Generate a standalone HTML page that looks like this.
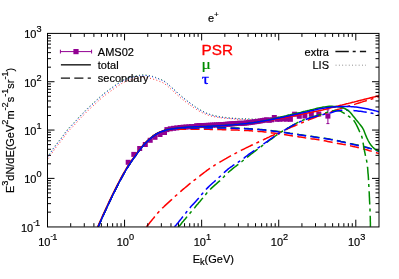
<!DOCTYPE html>
<html><head><meta charset="utf-8"><style>
html,body{margin:0;padding:0;background:#fff;}
svg{display:block;will-change:transform;font-family:"Liberation Sans",sans-serif;fill:#000;}
text{stroke:#000;stroke-width:0.18px;}
</style></head><body>
<svg width="399" height="279" viewBox="0 0 399 279">
<rect width="399" height="279" fill="#fff"/>
<clipPath id="c"><rect x="47.5" y="33.4" width="331.5" height="193.29999999999998"/></clipPath>
<g clip-path="url(#c)">
<path d="M47.5,159.4 L48.4,158.2 L49.3,157.0 L50.2,155.8 L51.0,154.6 L51.8,153.3 L52.7,152.1 L53.5,150.9 L54.4,149.6 L55.2,148.4 L56.1,147.2 L57.1,146.0 L58.0,144.9 L58.9,143.7 L59.9,142.5 L60.8,141.4 L61.7,140.2 L62.6,139.0 L63.5,137.8 L64.3,136.6 L65.2,135.3 L66.1,134.1 L67.0,132.9 L67.9,131.8 L68.9,130.7 L69.9,129.6 L71.0,128.5 L72.0,127.5 L73.1,126.4 L74.1,125.3 L75.1,124.2 L76.1,123.1 L77.1,122.0 L78.1,120.8 L79.1,119.7 L80.1,118.6 L81.1,117.6 L82.2,116.5 L83.2,115.5 L84.3,114.4 L85.3,113.3 L86.4,112.2 L87.4,111.2 L88.5,110.1 L89.6,109.1 L90.7,108.1 L91.8,107.1 L92.9,106.1 L94.0,105.1 L95.1,104.1 L96.2,103.1 L97.3,102.1 L98.4,101.0 L99.5,100.0 L100.6,99.0 L101.7,98.0 L102.8,97.1 L104.0,96.1 L105.2,95.2 L106.3,94.3 L107.6,93.4 L108.8,92.5 L110.0,91.6 L111.2,90.8 L112.4,89.9 L113.6,89.0 L114.8,88.1 L116.0,87.3 L117.3,86.4 L118.5,85.6 L119.7,84.8 L121.0,83.9 L122.2,83.1 L123.6,82.4 L124.9,81.8 L126.3,81.3 L127.7,80.7 L129.1,80.3 L130.6,79.8 L132.0,79.4 L133.4,79.0 L134.9,78.6 L136.4,78.3 L137.8,78.1 L139.3,77.8 L140.8,77.6 L142.3,77.4 L143.8,77.4 L145.2,77.5 L146.7,77.7 L148.2,77.9 L149.7,78.2 L151.1,78.5 L152.6,78.9 L154.0,79.4 L155.4,79.8 L156.8,80.3 L158.2,80.9 L159.6,81.4 L161.0,82.0 L162.4,82.5 L163.7,83.2 L164.9,84.0 L166.1,84.9 L167.3,85.9 L168.4,86.9 L169.5,87.9 L170.7,88.9 L171.8,89.9 L172.9,90.9 L174.0,91.9 L175.1,92.9 L176.2,93.9 L177.3,94.9 L178.4,95.9 L179.5,96.9 L180.7,97.9 L181.8,98.8 L183.0,99.7 L184.1,100.7 L185.3,101.6 L186.5,102.5 L187.7,103.4 L188.9,104.3 L190.1,105.2 L191.3,106.0 L192.6,106.9 L193.8,107.8 L195.0,108.6 L196.3,109.4 L197.6,110.2 L198.9,111.0 L200.2,111.6 L201.5,112.3 L202.8,113.0 L204.2,113.6 L205.6,114.2 L207.0,114.8 L208.4,115.3 L209.8,115.7 L211.2,116.1 L212.7,116.4 L214.1,116.7 L215.6,117.0 L217.1,117.3 L218.6,117.5 L220.1,117.7 L221.5,117.9 L223.0,118.1 L224.5,118.2 L226.0,118.4 L227.5,118.5 L229.0,118.6 L230.5,118.7 L232.0,118.9 L233.4,119.0 L234.9,119.1 L236.4,119.2 L237.9,119.3 L239.4,119.4 L240.9,119.4 L242.4,119.5 L243.9,119.6 L245.4,119.6 L246.9,119.7 L248.4,119.8 L249.9,119.8 L251.3,119.8 L252.8,119.9 L254.3,119.9 L255.8,120.0 L257.3,120.0 L258.8,120.0 L260.3,120.0 L261.8,120.0 L263.3,119.9 L264.8,119.9 L266.3,119.8 L267.8,119.7 L269.3,119.6 L270.7,119.5 L272.2,119.4 L273.7,119.1 L275.2,118.9 L276.6,118.6 L278.1,118.3 L279.6,118.0 L281.0,117.7 L282.5,117.4 L284.0,117.1 L285.4,116.7 L286.9,116.4 L288.3,116.1 L289.8,115.7 L291.2,115.4 L292.7,115.1 L294.2,114.8 L295.6,114.5 L297.1,114.1 L298.5,113.8 L300.0,113.5" fill="none" stroke="#ff0000" stroke-width="0.9" stroke-dasharray="0.9 2.4" stroke-dashoffset="-1.1"/>
<path d="M47.3,156.8 L48.2,155.6 L49.1,154.4 L50.0,153.2 L50.8,152.0 L51.7,150.7 L52.5,149.5 L53.3,148.2 L54.2,147.0 L55.1,145.8 L56.0,144.6 L56.9,143.4 L57.8,142.2 L58.7,141.1 L59.7,139.9 L60.6,138.7 L61.5,137.6 L62.4,136.4 L63.3,135.1 L64.2,133.9 L65.0,132.7 L65.9,131.5 L66.8,130.3 L67.8,129.1 L68.8,128.0 L69.8,126.9 L70.8,125.9 L71.9,124.8 L72.9,123.7 L74.0,122.6 L75.0,121.5 L76.0,120.4 L77.0,119.3 L77.9,118.1 L78.9,117.0 L80.0,116.0 L81.0,114.9 L82.1,113.8 L83.1,112.8 L84.2,111.7 L85.2,110.6 L86.3,109.5 L87.3,108.5 L88.4,107.4 L89.5,106.4 L90.6,105.4 L91.7,104.4 L92.8,103.4 L93.9,102.4 L95.0,101.4 L96.1,100.4 L97.2,99.3 L98.3,98.3 L99.4,97.3 L100.5,96.3 L101.7,95.3 L102.8,94.3 L103.9,93.4 L105.1,92.5 L106.3,91.6 L107.5,90.7 L108.7,89.8 L109.9,88.9 L111.2,88.0 L112.4,87.2 L113.6,86.3 L114.8,85.4 L116.0,84.6 L117.3,83.7 L118.5,82.9 L119.7,82.0 L121.0,81.2 L122.2,80.4 L123.6,79.7 L124.9,79.1 L126.3,78.6 L127.7,78.1 L129.2,77.6 L130.6,77.1 L132.0,76.7 L133.5,76.3 L135.0,76.0 L136.4,75.7 L137.9,75.4 L139.4,75.2 L140.9,74.9 L142.3,74.8 L143.8,74.8 L145.3,75.0 L146.8,75.1 L148.3,75.3 L149.8,75.6 L151.2,76.0 L152.7,76.4 L154.1,76.9 L155.5,77.3 L156.9,77.9 L158.3,78.4 L159.7,79.0 L161.1,79.5 L162.5,80.1 L163.8,80.8 L165.0,81.6 L166.2,82.5 L167.3,83.5 L168.5,84.5 L169.6,85.5 L170.7,86.5 L171.9,87.5 L173.0,88.5 L174.1,89.5 L175.2,90.5 L176.3,91.5 L177.4,92.6 L178.5,93.6 L179.6,94.5 L180.8,95.5 L181.9,96.5 L183.1,97.4 L184.2,98.4 L185.4,99.3 L186.6,100.2 L187.7,101.1 L188.9,102.1 L190.1,102.9 L191.3,103.8 L192.5,104.7 L193.8,105.6 L195.0,106.5 L196.2,107.4 L197.5,108.2 L198.7,109.0 L200.0,109.7 L201.3,110.4 L202.6,111.1 L204.0,111.8 L205.4,112.5 L206.7,113.1 L208.1,113.6 L209.5,114.1 L210.9,114.6 L212.4,115.0 L213.8,115.4 L215.3,115.7 L216.8,116.0 L218.2,116.3 L219.7,116.6 L221.2,116.8 L222.7,117.0 L224.1,117.2 L225.6,117.4 L227.1,117.5 L228.6,117.7 L230.1,117.8 L231.6,118.0 L233.1,118.1 L234.6,118.2 L236.1,118.3 L237.6,118.4 L239.1,118.5 L240.6,118.5 L242.1,118.6 L243.6,118.7 L245.1,118.7 L246.5,118.8 L248.0,118.8 L249.5,118.9 L251.0,118.9 L252.5,119.0 L254.0,119.0 L255.5,119.0 L257.0,119.1 L258.5,119.1 L260.0,119.1 L261.5,119.1 L263.0,119.0 L264.5,119.0 L266.0,118.9 L267.5,118.8 L269.0,118.8 L270.5,118.6 L272.0,118.5 L273.4,118.3 L274.9,118.0 L276.4,117.7 L277.9,117.4 L279.3,117.1 L280.8,116.8 L282.3,116.5 L283.7,116.2 L285.2,115.8 L286.6,115.5 L288.1,115.2 L289.6,114.9 L291.0,114.5 L292.5,114.2 L294.0,113.9 L295.4,113.6 L296.9,113.2 L298.3,112.9 L299.8,112.6" fill="none" stroke="#008c00" stroke-width="0.9" stroke-dasharray="0.9 2.4"/>
<path d="M47.5,157.3 L48.4,156.1 L49.3,154.9 L50.2,153.7 L51.0,152.5 L51.9,151.2 L52.7,150.0 L53.5,148.7 L54.4,147.5 L55.3,146.3 L56.2,145.1 L57.1,143.9 L58.0,142.7 L58.9,141.6 L59.9,140.4 L60.8,139.2 L61.7,138.1 L62.6,136.9 L63.5,135.6 L64.4,134.4 L65.2,133.2 L66.1,132.0 L67.0,130.8 L68.0,129.6 L69.0,128.5 L70.0,127.4 L71.0,126.4 L72.1,125.3 L73.1,124.2 L74.2,123.1 L75.2,122.0 L76.2,120.9 L77.2,119.8 L78.1,118.6 L79.1,117.5 L80.2,116.5 L81.2,115.4 L82.3,114.3 L83.3,113.3 L84.4,112.2 L85.4,111.1 L86.5,110.0 L87.5,109.0 L88.6,107.9 L89.7,106.9 L90.8,105.9 L91.9,104.9 L93.0,103.9 L94.1,102.9 L95.2,101.9 L96.3,100.9 L97.4,99.8 L98.5,98.8 L99.6,97.8 L100.7,96.8 L101.9,95.8 L103.0,94.8 L104.1,93.9 L105.3,93.0 L106.5,92.1 L107.7,91.2 L108.9,90.3 L110.1,89.4 L111.4,88.5 L112.6,87.7 L113.8,86.8 L115.0,85.9 L116.2,85.1 L117.5,84.2 L118.7,83.4 L119.9,82.5 L121.2,81.7 L122.4,80.9 L123.8,80.2 L125.1,79.6 L126.5,79.1 L127.9,78.6 L129.4,78.1 L130.8,77.6 L132.2,77.2 L133.7,76.8 L135.2,76.5 L136.6,76.2 L138.1,75.9 L139.6,75.7 L141.1,75.4 L142.5,75.3 L144.0,75.3 L145.5,75.5 L147.0,75.6 L148.5,75.8 L150.0,76.1 L151.4,76.5 L152.9,76.9 L154.3,77.4 L155.7,77.8 L157.1,78.4 L158.5,78.9 L159.9,79.5 L161.3,80.0 L162.7,80.6 L164.0,81.3 L165.2,82.1 L166.4,83.0 L167.5,84.0 L168.7,85.0 L169.8,86.0 L170.9,87.0 L172.1,88.0 L173.2,89.0 L174.3,90.0 L175.4,91.0 L176.5,92.0 L177.6,93.1 L178.7,94.1 L179.8,95.0 L181.0,96.0 L182.1,97.0 L183.3,97.9 L184.4,98.9 L185.6,99.8 L186.8,100.7 L187.9,101.6 L189.1,102.6 L190.3,103.4 L191.5,104.3 L192.7,105.2 L194.0,106.1 L195.2,107.0 L196.4,107.9 L197.7,108.7 L198.9,109.5 L200.2,110.2 L201.5,110.9 L202.8,111.6 L204.2,112.3 L205.6,113.0 L206.9,113.6 L208.3,114.1 L209.7,114.6 L211.1,115.1 L212.6,115.5 L214.0,115.9 L215.5,116.2 L217.0,116.5 L218.4,116.8 L219.9,117.1 L221.4,117.3 L222.9,117.5 L224.3,117.7 L225.8,117.9 L227.3,118.0 L228.8,118.2 L230.3,118.3 L231.8,118.5 L233.3,118.6 L234.8,118.7 L236.3,118.8 L237.8,118.9 L239.3,119.0 L240.8,119.0 L242.3,119.1 L243.8,119.2 L245.3,119.2 L246.7,119.3 L248.2,119.3 L249.7,119.4 L251.2,119.4 L252.7,119.5 L254.2,119.5 L255.7,119.5 L257.2,119.6 L258.7,119.6 L260.2,119.6 L261.7,119.6 L263.2,119.5 L264.7,119.5 L266.2,119.4 L267.7,119.3 L269.2,119.3 L270.7,119.1 L272.2,119.0 L273.6,118.8 L275.1,118.5 L276.6,118.2 L278.1,117.9 L279.5,117.6 L281.0,117.3 L282.5,117.0 L283.9,116.7 L285.4,116.3 L286.8,116.0 L288.3,115.7 L289.8,115.4 L291.2,115.0 L292.7,114.7 L294.2,114.4 L295.6,114.1 L297.1,113.7 L298.5,113.4 L300.0,113.1" fill="none" stroke="#0000ff" stroke-width="0.9" stroke-dasharray="0.9 2.4"/>
<rect x="125.7" y="159.8" width="5.0" height="5.0" fill="#920092"/>
<rect x="131.3" y="151.9" width="5.0" height="5.0" fill="#920092"/>
<rect x="137.2" y="146.0" width="5.0" height="5.0" fill="#920092"/>
<rect x="142.8" y="142.0" width="5.0" height="5.0" fill="#920092"/>
<rect x="147.7" y="137.8" width="5.0" height="5.0" fill="#920092"/>
<rect x="152.5" y="134.8" width="5.0" height="5.0" fill="#920092"/>
<rect x="157.5" y="132.0" width="5.0" height="5.0" fill="#920092"/>
<rect x="162.0" y="130.0" width="5.0" height="5.0" fill="#920092"/>
<rect x="164.4" y="127.1" width="5.0" height="5.0" fill="#920092"/>
<rect x="167.8" y="126.3" width="5.0" height="5.0" fill="#920092"/>
<rect x="171.1" y="125.8" width="5.0" height="5.0" fill="#920092"/>
<rect x="174.3" y="125.4" width="5.0" height="5.0" fill="#920092"/>
<rect x="177.5" y="125.0" width="5.0" height="5.0" fill="#920092"/>
<rect x="180.6" y="124.7" width="5.0" height="5.0" fill="#920092"/>
<rect x="183.5" y="124.5" width="5.0" height="5.0" fill="#920092"/>
<rect x="186.3" y="124.3" width="5.0" height="5.0" fill="#920092"/>
<rect x="189.0" y="124.1" width="5.0" height="5.0" fill="#920092"/>
<rect x="191.6" y="124.0" width="5.0" height="5.0" fill="#920092"/>
<rect x="194.2" y="123.2" width="5.0" height="5.0" fill="#920092"/>
<rect x="196.6" y="123.1" width="5.0" height="5.0" fill="#920092"/>
<rect x="199.0" y="123.0" width="5.0" height="5.0" fill="#920092"/>
<rect x="201.3" y="123.0" width="5.0" height="5.0" fill="#920092"/>
<rect x="203.6" y="122.9" width="5.0" height="5.0" fill="#920092"/>
<rect x="205.8" y="122.8" width="5.0" height="5.0" fill="#920092"/>
<rect x="207.9" y="122.7" width="5.0" height="5.0" fill="#920092"/>
<rect x="210.0" y="122.6" width="5.0" height="5.0" fill="#920092"/>
<rect x="212.0" y="122.5" width="5.0" height="5.0" fill="#920092"/>
<rect x="214.0" y="122.4" width="5.0" height="5.0" fill="#920092"/>
<rect x="216.0" y="122.3" width="5.0" height="5.0" fill="#920092"/>
<rect x="217.8" y="122.2" width="5.0" height="5.0" fill="#920092"/>
<rect x="219.7" y="122.1" width="5.0" height="5.0" fill="#920092"/>
<rect x="221.5" y="122.0" width="5.0" height="5.0" fill="#920092"/>
<rect x="223.3" y="121.8" width="5.0" height="5.0" fill="#920092"/>
<rect x="225.1" y="121.7" width="5.0" height="5.0" fill="#920092"/>
<rect x="226.8" y="121.6" width="5.0" height="5.0" fill="#920092"/>
<rect x="228.5" y="121.4" width="5.0" height="5.0" fill="#920092"/>
<rect x="230.2" y="121.3" width="5.0" height="5.0" fill="#920092"/>
<rect x="231.8" y="121.2" width="5.0" height="5.0" fill="#920092"/>
<rect x="233.6" y="121.0" width="5.0" height="5.0" fill="#920092"/>
<rect x="235.3" y="120.9" width="5.0" height="5.0" fill="#920092"/>
<rect x="237.0" y="120.7" width="5.0" height="5.0" fill="#920092"/>
<rect x="238.8" y="120.9" width="5.0" height="5.0" fill="#920092"/>
<rect x="240.5" y="120.8" width="5.0" height="5.0" fill="#920092"/>
<rect x="242.3" y="120.6" width="5.0" height="5.0" fill="#920092"/>
<rect x="244.1" y="120.4" width="5.0" height="5.0" fill="#920092"/>
<rect x="246.0" y="120.2" width="5.0" height="5.0" fill="#920092"/>
<rect x="247.8" y="120.0" width="5.0" height="5.0" fill="#920092"/>
<rect x="249.7" y="119.7" width="5.0" height="5.0" fill="#920092"/>
<rect x="251.6" y="119.4" width="5.0" height="5.0" fill="#920092"/>
<rect x="253.6" y="119.1" width="5.0" height="5.0" fill="#920092"/>
<rect x="255.6" y="118.8" width="5.0" height="5.0" fill="#920092"/>
<rect x="257.6" y="118.5" width="5.0" height="5.0" fill="#920092"/>
<rect x="259.7" y="118.1" width="5.0" height="5.0" fill="#920092"/>
<rect x="261.9" y="117.7" width="5.0" height="5.0" fill="#920092"/>
<rect x="264.1" y="117.3" width="5.0" height="5.0" fill="#920092"/>
<rect x="266.8" y="117.8" width="5.0" height="5.0" fill="#920092"/>
<rect x="269.2" y="117.3" width="5.0" height="5.0" fill="#920092"/>
<rect x="271.8" y="115.0" width="5.0" height="5.0" fill="#920092"/>
<rect x="274.5" y="116.8" width="5.0" height="5.0" fill="#920092"/>
<rect x="277.4" y="116.7" width="5.0" height="5.0" fill="#920092"/>
<rect x="280.6" y="116.5" width="5.0" height="5.0" fill="#920092"/>
<rect x="284.1" y="116.7" width="5.0" height="5.0" fill="#920092"/>
<rect x="287.9" y="116.8" width="5.0" height="5.0" fill="#920092"/>
<rect x="292.1" y="111.7" width="5.0" height="5.0" fill="#920092"/>
<rect x="296.8" y="113.8" width="5.0" height="5.0" fill="#920092"/>
<rect x="302.4" y="113.5" width="5.0" height="5.0" fill="#920092"/>
<rect x="308.8" y="111.8" width="5.0" height="5.0" fill="#920092"/>
<rect x="316.3" y="111.5" width="5.0" height="5.0" fill="#920092"/>
<rect x="325.4" y="113.6" width="5.0" height="5.0" fill="#920092"/>
<path d="M327.9,109.8 V123.6 M326.4,109.8 h3 M326.4,123.6 h3" stroke="#920092" stroke-width="1" fill="none"/>
<path d="M98.1,227.0 L99.6,223.6 L101.1,220.2 L102.6,216.8 L104.1,213.5 L105.6,210.2 L107.1,207.0 L108.6,203.8 L110.1,200.6 L111.6,197.5 L113.1,194.4 L114.6,191.4 L116.1,188.4 L117.6,185.4 L119.1,182.5 L120.6,179.7 L122.1,176.9 L123.6,174.2 L125.1,171.5 L126.6,168.9 L128.1,166.5 L129.6,164.2 L131.1,161.9 L132.6,159.8 L134.1,157.7 L135.6,155.6 L137.1,153.4 L138.6,151.4 L140.1,149.4 L141.6,147.5 L143.1,145.7 L144.6,144.1 L146.1,142.5 L147.6,141.0 L149.1,139.7 L150.6,138.4 L152.1,137.2 L153.6,136.0 L155.1,134.9 L156.6,134.0 L158.1,133.1 L159.6,132.4 L161.1,131.7 L162.6,131.1 L164.1,130.6 L165.6,130.3 L167.1,129.9 L168.6,129.7 L170.1,129.5 L171.6,129.4 L173.1,129.3 L174.6,129.3 L176.1,129.2 L177.6,129.2 L179.1,129.2 L180.6,129.2 L182.1,129.2 L183.6,129.2 L185.1,129.2 L186.6,129.2 L188.1,129.2 L189.6,129.2 L191.1,129.2 L192.6,129.2 L194.1,129.2 L195.6,129.2 L197.1,129.2 L198.6,129.2 L200.1,129.2 L201.6,129.2 L203.1,129.2 L204.6,129.2 L206.1,129.3 L207.6,129.3 L209.1,129.3 L210.6,129.4 L212.1,129.4 L213.6,129.4 L215.1,129.5 L216.6,129.5 L218.1,129.6 L219.6,129.6 L221.1,129.6 L222.6,129.7 L224.1,129.7 L225.6,129.7 L227.1,129.8 L228.6,129.8 L230.1,129.9 L231.6,129.9 L233.1,130.0 L234.6,130.0 L236.1,130.1 L237.6,130.1 L239.1,130.2 L240.6,130.2 L242.1,130.3 L243.6,130.4 L245.1,130.4 L246.6,130.5 L248.1,130.6 L249.6,130.7 L251.1,130.8 L252.6,130.9 L254.1,131.0 L255.6,131.1 L257.1,131.3 L258.6,131.4 L260.1,131.5 L261.6,131.6 L263.1,131.8 L264.6,132.0 L266.1,132.1 L267.6,132.3 L269.1,132.5 L270.6,132.7 L272.1,132.9 L273.6,133.1 L275.1,133.3 L276.6,133.5 L278.1,133.7 L279.6,133.9 L281.1,134.2 L282.6,134.4 L284.1,134.6 L285.6,134.8 L287.1,135.0 L288.6,135.2 L290.1,135.5 L291.6,135.7 L293.1,135.9 L294.6,136.2 L296.1,136.4 L297.6,136.6 L299.1,136.9 L300.6,137.1 L302.1,137.3 L303.6,137.5 L305.1,137.8 L306.6,138.0 L308.1,138.2 L309.6,138.4 L311.1,138.7 L312.6,138.9 L314.1,139.1 L315.6,139.3 L317.1,139.6 L318.6,139.8 L320.1,140.1 L321.6,140.3 L323.1,140.6 L324.6,140.8 L326.1,141.1 L327.6,141.4 L329.1,141.7 L330.6,142.0 L332.1,142.3 L333.6,142.6 L335.1,142.8 L336.6,143.1 L338.1,143.4 L339.6,143.7 L341.1,144.0 L342.6,144.3 L344.1,144.5 L345.6,144.8 L347.1,145.1 L348.6,145.4 L350.1,145.7 L351.6,146.1 L353.1,146.4 L354.6,146.7 L356.1,147.1 L357.6,147.4 L359.1,147.8 L360.6,148.2 L362.1,148.6 L363.6,149.0 L365.1,149.4 L366.6,149.8 L368.1,150.2 L369.6,150.7 L371.1,151.1 L372.6,151.6 L374.1,152.1 L375.6,152.5 L377.1,153.0 L378.6,153.4 L379.5,153.7" fill="none" stroke="#ff0000" stroke-width="1.5" stroke-dasharray="9.1 4.3" stroke-dashoffset="1.5"/>
<path d="M98.1,226.7 L99.6,223.3 L101.1,219.9 L102.6,216.5 L104.1,213.2 L105.6,209.9 L107.1,206.7 L108.6,203.5 L110.1,200.3 L111.6,197.2 L113.1,194.1 L114.6,191.1 L116.1,188.1 L117.6,185.1 L119.1,182.2 L120.6,179.4 L122.1,176.6 L123.6,173.9 L125.1,171.2 L126.6,168.6 L128.1,166.2 L129.6,163.9 L131.1,161.6 L132.6,159.5 L134.1,157.4 L135.6,155.3 L137.1,153.1 L138.6,151.1 L140.1,149.1 L141.6,147.2 L143.1,145.4 L144.6,143.8 L146.1,142.2 L147.6,140.7 L149.1,139.4 L150.6,138.1 L152.1,136.9 L153.6,135.7 L155.1,134.6 L156.6,133.7 L158.1,132.8 L159.6,132.1 L161.1,131.5 L162.6,130.9 L164.1,130.4 L165.6,129.9 L167.1,129.5 L168.6,129.2 L170.1,128.9 L171.6,128.7 L173.1,128.5 L174.6,128.3 L176.1,128.2 L177.6,128.1 L179.1,127.9 L180.6,127.9 L182.1,127.8 L183.6,127.8 L185.1,127.8 L186.6,127.7 L188.1,127.7 L189.6,127.7 L191.1,127.7 L192.6,127.7 L194.1,127.6 L195.6,127.6 L197.1,127.6 L198.6,127.6 L200.1,127.6 L201.6,127.6 L203.1,127.6 L204.6,127.6 L206.1,127.6 L207.6,127.6 L209.1,127.6 L210.6,127.6 L212.1,127.6 L213.6,127.7 L215.1,127.7 L216.6,127.7 L218.1,127.7 L219.6,127.7 L221.1,127.7 L222.6,127.7 L224.1,127.8 L225.6,127.8 L227.1,127.8 L228.6,127.8 L230.1,127.9 L231.6,127.9 L233.1,128.0 L234.6,128.0 L236.1,128.1 L237.6,128.1 L239.1,128.2 L240.6,128.2 L242.1,128.3 L243.6,128.3 L245.1,128.4 L246.6,128.5 L248.1,128.6 L249.6,128.7 L251.1,128.8 L252.6,128.9 L254.1,129.0 L255.6,129.1 L257.1,129.2 L258.6,129.3 L260.1,129.4 L261.6,129.5 L263.1,129.7 L264.6,129.8 L266.1,130.0 L267.6,130.1 L269.1,130.3 L270.6,130.5 L272.1,130.7 L273.6,130.9 L275.1,131.1 L276.6,131.3 L278.1,131.5 L279.6,131.6 L281.1,131.8 L282.6,132.1 L284.1,132.3 L285.6,132.5 L287.1,132.7 L288.6,132.9 L290.1,133.2 L291.6,133.4 L293.1,133.6 L294.6,133.9 L296.1,134.1 L297.6,134.3 L299.1,134.6 L300.6,134.8 L302.1,135.0 L303.6,135.2 L305.1,135.4 L306.6,135.7 L308.1,135.9 L309.6,136.1 L311.1,136.3 L312.6,136.5 L314.1,136.8 L315.6,137.0 L317.1,137.2 L318.6,137.4 L320.1,137.6 L321.6,137.8 L323.1,138.1 L324.6,138.3 L326.1,138.5 L327.6,138.7 L329.1,139.0 L330.6,139.3 L332.1,139.5 L333.6,139.8 L335.1,140.1 L336.6,140.4 L338.1,140.7 L339.6,141.0 L341.1,141.4 L342.6,141.7 L344.1,142.0 L345.6,142.4 L347.1,142.7 L348.6,143.0 L350.1,143.4 L351.6,143.7 L353.1,144.1 L354.6,144.4 L356.1,144.8 L357.6,145.1 L359.1,145.4 L360.6,145.8 L362.1,146.2 L363.6,146.5 L365.1,146.9 L366.6,147.3 L368.1,147.7 L369.6,148.1 L371.1,148.6 L372.6,149.1 L374.1,149.6 L375.6,150.0 L377.1,150.5 L378.6,150.9 L379.5,151.2" fill="none" stroke="#008c00" stroke-width="1.5" stroke-dasharray="9.1 4.3" stroke-dashoffset="1.5"/>
<path d="M98.1,227.0 L99.6,223.6 L101.1,220.2 L102.6,216.8 L104.1,213.5 L105.6,210.2 L107.1,207.0 L108.6,203.8 L110.1,200.6 L111.6,197.5 L113.1,194.4 L114.6,191.4 L116.1,188.4 L117.6,185.4 L119.1,182.5 L120.6,179.7 L122.1,176.9 L123.6,174.2 L125.1,171.5 L126.6,168.9 L128.1,166.5 L129.6,164.2 L131.1,161.9 L132.6,159.8 L134.1,157.7 L135.6,155.6 L137.1,153.4 L138.6,151.4 L140.1,149.4 L141.6,147.5 L143.1,145.7 L144.6,144.1 L146.1,142.5 L147.6,141.0 L149.1,139.7 L150.6,138.4 L152.1,137.2 L153.6,136.0 L155.1,134.9 L156.6,134.0 L158.1,133.1 L159.6,132.4 L161.1,131.8 L162.6,131.2 L164.1,130.7 L165.6,130.2 L167.1,129.8 L168.6,129.5 L170.1,129.2 L171.6,129.0 L173.1,128.8 L174.6,128.6 L176.1,128.5 L177.6,128.4 L179.1,128.2 L180.6,128.2 L182.1,128.1 L183.6,128.1 L185.1,128.1 L186.6,128.0 L188.1,128.0 L189.6,128.0 L191.1,128.0 L192.6,128.0 L194.1,127.9 L195.6,127.9 L197.1,127.9 L198.6,127.9 L200.1,127.9 L201.6,127.9 L203.1,127.9 L204.6,127.9 L206.1,127.9 L207.6,127.9 L209.1,127.9 L210.6,127.9 L212.1,127.9 L213.6,128.0 L215.1,128.0 L216.6,128.0 L218.1,128.0 L219.6,128.0 L221.1,128.0 L222.6,128.0 L224.1,128.1 L225.6,128.1 L227.1,128.1 L228.6,128.1 L230.1,128.2 L231.6,128.2 L233.1,128.3 L234.6,128.3 L236.1,128.4 L237.6,128.4 L239.1,128.5 L240.6,128.5 L242.1,128.6 L243.6,128.6 L245.1,128.7 L246.6,128.8 L248.1,128.9 L249.6,129.0 L251.1,129.1 L252.6,129.2 L254.1,129.3 L255.6,129.4 L257.1,129.5 L258.6,129.6 L260.1,129.7 L261.6,129.8 L263.1,130.0 L264.6,130.1 L266.1,130.3 L267.6,130.4 L269.1,130.6 L270.6,130.8 L272.1,131.0 L273.6,131.2 L275.1,131.4 L276.6,131.6 L278.1,131.8 L279.6,131.9 L281.1,132.1 L282.6,132.4 L284.1,132.6 L285.6,132.8 L287.1,133.0 L288.6,133.2 L290.1,133.5 L291.6,133.7 L293.1,133.9 L294.6,134.2 L296.1,134.4 L297.6,134.6 L299.1,134.9 L300.6,135.1 L302.1,135.3 L303.6,135.5 L305.1,135.7 L306.6,136.0 L308.1,136.2 L309.6,136.4 L311.1,136.6 L312.6,136.8 L314.1,137.1 L315.6,137.3 L317.1,137.5 L318.6,137.7 L320.1,137.9 L321.6,138.1 L323.1,138.4 L324.6,138.6 L326.1,138.8 L327.6,139.0 L329.1,139.3 L330.6,139.6 L332.1,139.8 L333.6,140.1 L335.1,140.4 L336.6,140.7 L338.1,141.0 L339.6,141.3 L341.1,141.7 L342.6,142.0 L344.1,142.3 L345.6,142.7 L347.1,143.0 L348.6,143.3 L350.1,143.7 L351.6,144.0 L353.1,144.4 L354.6,144.7 L356.1,145.1 L357.6,145.4 L359.1,145.7 L360.6,146.1 L362.1,146.5 L363.6,146.8 L365.1,147.2 L366.6,147.6 L368.1,148.0 L369.6,148.4 L371.1,148.9 L372.6,149.4 L374.1,149.9 L375.6,150.3 L377.1,150.8 L378.6,151.2 L379.5,151.5" fill="none" stroke="#0000ff" stroke-width="1.5" stroke-dasharray="9.1 4.3" stroke-dashoffset="1.5"/>
<path d="M146.4,227.0 L147.3,225.8 L148.2,224.7 L149.2,223.5 L150.1,222.3 L151.0,221.2 L152.0,220.0 L152.9,218.9 L153.9,217.7 L154.8,216.5 L155.8,215.4 L156.8,214.3 L157.7,213.1 L158.7,212.0 L159.7,210.9 L160.7,209.8 L161.8,208.8 L162.8,207.7 L163.9,206.7 L165.0,205.6 L166.1,204.6 L167.2,203.6 L168.3,202.6 L169.4,201.6 L170.5,200.6 L171.6,199.6 L172.7,198.5 L173.8,197.5 L174.9,196.5 L176.0,195.5 L177.1,194.6 L178.2,193.6 L179.3,192.6 L180.5,191.6 L181.6,190.6 L182.7,189.7 L183.9,188.7 L185.0,187.7 L186.1,186.8 L187.3,185.8 L188.4,184.9 L189.6,183.9 L190.8,183.0 L191.9,182.1 L193.1,181.1 L194.3,180.2 L195.5,179.3 L196.6,178.4 L197.8,177.5 L199.0,176.6 L200.2,175.7 L201.4,174.7 L202.5,173.8 L203.7,172.9 L204.9,172.0 L206.1,171.1 L207.3,170.2 L208.5,169.3 L209.7,168.5 L211.0,167.7 L212.2,166.8 L213.5,166.0 L214.7,165.2 L216.0,164.4 L217.3,163.7 L218.5,162.9 L219.8,162.1 L221.1,161.3 L222.4,160.6 L223.7,159.8 L225.0,159.1 L226.3,158.4 L227.6,157.6 L228.9,156.9 L230.2,156.2 L231.5,155.5 L232.8,154.8 L234.1,154.1 L235.4,153.4 L236.8,152.7 L238.1,152.0 L239.4,151.3 L240.7,150.6 L242.1,149.9 L243.4,149.3 L244.7,148.6 L246.1,147.9 L247.4,147.3 L248.7,146.6 L250.1,146.0 L251.4,145.3 L252.8,144.7 L254.1,144.1 L255.5,143.5 L256.9,142.8 L258.2,142.2 L259.6,141.6 L260.9,141.0 L262.3,140.3 L263.6,139.7 L264.9,139.0 L266.3,138.4 L267.6,137.7 L269.0,137.1 L270.3,136.4 L271.7,135.8 L273.1,135.2 L274.4,134.6 L275.8,134.0 L277.2,133.4 L278.5,132.8 L279.9,132.2 L281.2,131.6 L282.6,131.0 L284.0,130.4 L285.4,129.8 L286.7,129.2 L288.1,128.6 L289.5,128.0 L290.8,127.4 L292.2,126.8 L293.6,126.3 L294.9,125.7 L296.3,125.1 L297.7,124.5 L299.0,123.9 L300.4,123.3 L301.8,122.8 L303.2,122.2 L304.6,121.6 L305.9,121.0 L307.3,120.5 L308.7,119.9 L310.1,119.3 L311.5,118.8 L312.9,118.2 L314.2,117.7 L315.6,117.2 L317.0,116.6 L318.4,116.1 L319.8,115.6 L321.2,115.1 L322.6,114.5 L324.0,114.0 L325.4,113.5 L326.8,113.1 L328.3,112.6 L329.7,112.1 L331.1,111.6 L332.5,111.1 L333.9,110.7 L335.3,110.2 L336.8,109.8 L338.2,109.3 L339.6,108.9 L341.0,108.4 L342.4,108.0 L343.9,107.6 L345.3,107.1 L346.7,106.7 L348.2,106.3 L349.6,105.8 L351.0,105.4 L352.4,105.0 L353.9,104.5 L355.3,104.1 L356.7,103.6 L358.1,103.2 L359.6,102.8 L361.0,102.3 L362.4,101.9 L363.8,101.4 L365.3,101.0 L366.7,100.5 L368.1,100.1 L369.5,99.6 L371.0,99.2 L372.4,98.8 L373.8,98.3 L375.2,97.9 L376.7,97.4 L378.1,97.0 L379.5,96.5" fill="none" stroke="#ff0000" stroke-width="1.5" stroke-dasharray="13.4 3.9 3 4.2"/>
<path d="M178.6,227.0 L179.5,225.8 L180.5,224.7 L181.4,223.5 L182.3,222.3 L183.3,221.2 L184.2,220.0 L185.2,218.9 L186.2,217.7 L187.1,216.6 L188.1,215.4 L189.1,214.3 L190.1,213.1 L191.0,212.0 L192.0,210.8 L192.9,209.7 L193.9,208.5 L194.9,207.4 L195.8,206.3 L196.8,205.1 L197.8,204.0 L198.7,202.8 L199.7,201.7 L200.7,200.5 L201.6,199.4 L202.6,198.2 L203.5,197.1 L204.5,195.9 L205.5,194.7 L206.4,193.6 L207.4,192.5 L208.4,191.4 L209.4,190.3 L210.4,189.2 L211.5,188.1 L212.6,187.1 L213.7,186.1 L214.8,185.1 L216.0,184.1 L217.1,183.1 L218.2,182.2 L219.4,181.2 L220.5,180.2 L221.5,179.1 L222.6,178.1 L223.7,177.0 L224.7,175.9 L225.8,174.9 L226.9,173.8 L227.9,172.8 L229.0,171.8 L230.1,170.8 L231.3,169.8 L232.4,168.9 L233.6,167.9 L234.8,167.0 L236.0,166.1 L237.2,165.2 L238.4,164.3 L239.6,163.4 L240.7,162.4 L241.9,161.5 L243.1,160.5 L244.2,159.6 L245.4,158.7 L246.6,157.7 L247.7,156.8 L248.9,155.9 L250.1,154.9 L251.3,154.0 L252.5,153.1 L253.6,152.2 L254.8,151.3 L256.0,150.4 L257.2,149.5 L258.4,148.6 L259.6,147.7 L260.8,146.8 L262.0,145.9 L263.2,145.0 L264.4,144.1 L265.6,143.2 L266.8,142.3 L268.1,141.4 L269.3,140.5 L270.5,139.7 L271.7,138.8 L272.9,137.9 L274.1,136.9 L275.3,136.0 L276.5,135.2 L277.7,134.3 L278.9,133.5 L280.2,132.6 L281.4,131.8 L282.7,131.0 L284.0,130.3 L285.3,129.5 L286.6,128.8 L287.9,128.0 L289.2,127.3 L290.5,126.5 L291.8,125.8 L293.1,125.0 L294.4,124.3 L295.7,123.6 L297.0,122.9 L298.4,122.2 L299.7,121.6 L301.1,121.0 L302.5,120.4 L303.9,119.8 L305.3,119.3 L306.7,118.8 L308.1,118.3 L309.5,117.8 L310.9,117.3 L312.4,116.9 L313.8,116.4 L315.2,116.0 L316.7,115.6 L318.1,115.2 L319.6,114.8 L321.0,114.4 L322.4,113.9 L323.8,113.4 L325.3,112.9 L326.7,112.4 L328.1,112.0 L329.6,111.6 L331.0,111.3 L332.5,111.0 L334.0,110.7 L335.5,110.5 L337.0,110.5 L338.4,110.7 L339.9,111.1 L341.3,111.6 L342.6,112.3 L343.9,113.2 L345.1,114.0 L346.4,114.8 L347.7,115.6 L348.9,116.4 L350.2,117.3 L351.4,118.2 L352.6,119.1 L353.5,120.2 L354.4,121.4 L355.2,122.7 L356.0,124.0 L356.7,125.4 L357.3,126.7 L358.0,128.1 L358.6,129.4 L359.2,130.8 L359.8,132.2 L360.5,133.5 L361.1,134.9 L361.7,136.3 L362.1,137.7 L362.4,139.1 L362.7,140.6 L363.0,142.1 L363.2,143.6 L363.5,145.1 L363.7,146.5 L364.0,148.0 L364.3,149.5 L364.5,151.0 L364.8,152.4 L365.1,153.9 L365.4,155.4 L365.7,156.8 L366.1,158.3 L366.4,159.7 L366.7,161.2 L367.0,162.7 L367.2,164.2 L367.4,165.7 L367.5,167.2 L367.7,168.6 L367.8,170.1 L367.9,171.6 L368.0,173.1 L368.2,174.6 L368.3,176.1 L368.4,177.6 L368.5,179.1 L368.6,180.6 L368.6,182.1 L368.7,183.6 L368.8,185.1 L368.9,186.6 L369.0,188.1 L369.0,189.6 L369.1,191.1 L369.2,192.6 L369.3,194.1 L369.3,195.6 L369.4,197.1 L369.5,198.6 L369.5,200.0 L369.6,201.5 L369.7,203.0 L369.7,204.5 L369.8,206.0 L369.9,207.5 L370.0,209.0 L370.0,210.5 L370.1,212.0 L370.2,213.5 L370.2,215.0 L370.2,216.5 L370.3,218.0 L370.3,219.5 L370.3,221.0 L370.4,222.5 L370.4,224.0 L370.4,225.5 L370.4,227.0" fill="none" stroke="#008c00" stroke-width="1.5" stroke-dasharray="13.4 3.9 3 4.2"/>
<path d="M174.5,227.0 L175.4,225.8 L176.4,224.7 L177.3,223.5 L178.3,222.4 L179.2,221.2 L180.2,220.0 L181.1,218.9 L182.0,217.7 L183.0,216.5 L183.9,215.4 L184.8,214.2 L185.8,213.0 L186.7,211.8 L187.6,210.6 L188.5,209.5 L189.5,208.3 L190.4,207.2 L191.4,206.1 L192.4,205.0 L193.5,203.9 L194.5,202.8 L195.5,201.7 L196.5,200.6 L197.5,199.4 L198.5,198.3 L199.4,197.1 L200.4,196.0 L201.4,194.8 L202.3,193.7 L203.3,192.5 L204.3,191.4 L205.2,190.3 L206.2,189.2 L207.3,188.1 L208.3,187.1 L209.4,186.0 L210.5,185.0 L211.6,184.0 L212.7,183.0 L213.9,182.0 L215.0,181.0 L216.1,180.0 L217.2,179.0 L218.3,178.0 L219.4,177.0 L220.5,176.0 L221.6,174.9 L222.7,173.9 L223.8,172.9 L224.9,171.9 L226.0,170.9 L227.2,169.9 L228.3,168.9 L229.5,168.0 L230.7,167.1 L231.9,166.3 L233.1,165.4 L234.4,164.6 L235.7,163.8 L236.9,163.0 L238.2,162.2 L239.4,161.4 L240.7,160.5 L241.9,159.6 L243.1,158.7 L244.3,157.8 L245.4,156.9 L246.6,156.0 L247.8,155.1 L249.0,154.2 L250.2,153.3 L251.5,152.5 L252.7,151.6 L253.9,150.8 L255.2,149.9 L256.4,149.1 L257.6,148.2 L258.9,147.4 L260.1,146.5 L261.3,145.7 L262.5,144.8 L263.7,143.9 L264.9,143.0 L266.2,142.1 L267.4,141.3 L268.6,140.4 L269.8,139.5 L271.0,138.7 L272.3,137.8 L273.5,137.0 L274.7,136.2 L276.0,135.3 L277.2,134.5 L278.5,133.7 L279.8,132.9 L281.1,132.1 L282.3,131.4 L283.6,130.6 L284.9,129.9 L286.2,129.1 L287.5,128.4 L288.8,127.7 L290.1,126.9 L291.4,126.2 L292.7,125.4 L294.0,124.7 L295.3,123.9 L296.7,123.2 L298.0,122.6 L299.4,122.0 L300.7,121.4 L302.1,120.8 L303.5,120.3 L304.9,119.7 L306.3,119.2 L307.8,118.7 L309.2,118.3 L310.6,117.8 L312.0,117.4 L313.5,117.0 L314.9,116.6 L316.4,116.2 L317.8,115.8 L319.3,115.5 L320.7,115.1 L322.2,114.8 L323.6,114.4 L325.1,114.1 L326.6,113.8 L328.0,113.4 L329.5,113.1 L330.9,112.7 L332.4,112.3 L333.8,111.8 L335.3,111.4 L336.7,111.0 L338.2,110.7 L339.7,110.4 L341.1,110.2 L342.6,110.2 L344.1,110.2 L345.6,110.3 L347.1,110.3 L348.6,110.4 L350.1,110.4 L351.6,110.5 L353.1,110.6 L354.6,110.7 L356.1,110.8 L357.6,111.0 L359.0,111.2 L360.5,111.3 L362.0,111.5 L363.5,111.8 L365.0,112.0 L366.5,112.2 L367.9,112.4 L369.4,112.7 L370.9,113.0 L372.3,113.3 L373.8,113.7 L375.2,114.1 L376.7,114.5 L378.1,115.0 L379.5,115.5" fill="none" stroke="#0000ff" stroke-width="1.5" stroke-dasharray="13.4 3.9 3 4.2"/>
<path d="M97.6,227.0 L99.1,223.6 L100.6,220.2 L102.1,216.8 L103.6,213.5 L105.1,210.2 L106.6,207.0 L108.1,203.8 L109.6,200.6 L111.1,197.5 L112.6,194.4 L114.1,191.4 L115.6,188.4 L117.1,185.4 L118.6,182.5 L120.1,179.7 L121.6,176.9 L123.1,174.2 L124.6,171.5 L126.1,168.9 L127.6,166.5 L129.1,164.2 L130.6,161.9 L132.1,159.8 L133.6,157.7 L135.1,155.6 L136.6,153.4 L138.1,151.4 L139.6,149.4 L141.1,147.5 L142.6,145.7 L144.1,144.1 L145.6,142.5 L147.1,141.0 L148.6,139.7 L150.1,138.4 L151.6,137.2 L153.1,136.0 L154.6,134.9 L156.1,134.0 L157.6,133.1 L159.1,132.4 L160.6,131.8 L162.1,131.2 L163.6,130.7 L165.1,130.2 L166.6,129.8 L168.1,129.5 L169.6,129.2 L171.1,128.9 L172.6,128.7 L174.1,128.5 L175.6,128.3 L177.1,128.1 L178.6,127.9 L180.1,127.7 L181.6,127.6 L183.1,127.5 L184.6,127.3 L186.1,127.2 L187.6,127.1 L189.1,127.0 L190.6,126.9 L192.1,126.9 L193.6,126.8 L195.1,126.8 L196.6,126.7 L198.1,126.7 L199.6,126.6 L201.1,126.5 L202.6,126.5 L204.1,126.4 L205.6,126.4 L207.1,126.3 L208.6,126.3 L210.1,126.2 L211.6,126.1 L213.1,126.1 L214.6,126.0 L216.1,125.9 L217.6,125.8 L219.1,125.7 L220.6,125.6 L222.1,125.5 L223.6,125.4 L225.1,125.3 L226.6,125.2 L228.1,125.1 L229.6,125.0 L231.1,124.9 L232.6,124.8 L234.1,124.6 L235.6,124.5 L237.1,124.4 L238.6,124.2 L240.1,124.1 L241.6,124.0 L243.1,123.8 L244.6,123.7 L246.1,123.5 L247.6,123.3 L249.1,123.1 L250.6,123.0 L252.1,122.7 L253.6,122.5 L255.1,122.3 L256.6,122.0 L258.1,121.8 L259.6,121.6 L261.1,121.4 L262.6,121.2 L264.1,121.0 L265.6,120.8 L267.1,120.5 L268.6,120.3 L270.1,120.1 L271.6,119.9 L273.1,119.7 L274.6,119.4 L276.1,119.2 L277.6,118.9 L279.1,118.7 L280.6,118.4 L282.1,118.1 L283.6,117.8 L285.1,117.5 L286.6,117.2 L288.1,116.9 L289.6,116.6 L291.1,116.3 L292.6,116.0 L294.1,115.7 L295.6,115.4 L297.1,115.1 L298.6,114.8 L300.1,114.5 L301.6,114.2 L303.1,113.9 L304.6,113.6 L306.1,113.3 L307.6,113.0 L309.1,112.7 L310.6,112.4 L312.1,112.1 L313.6,111.8 L315.1,111.5 L316.6,111.2 L318.1,110.9 L319.6,110.6 L321.1,110.2 L322.6,109.9 L324.1,109.5 L325.6,109.2 L327.1,108.8 L328.6,108.4 L330.1,108.0 L331.6,107.6 L333.1,107.2 L334.6,106.9 L336.1,106.5 L337.6,106.1 L339.1,105.7 L340.6,105.3 L342.1,105.0 L343.6,104.6 L345.1,104.2 L346.6,103.8 L348.1,103.5 L349.6,103.1 L351.1,102.7 L352.6,102.3 L354.1,102.0 L355.6,101.6 L357.1,101.2 L358.6,100.8 L360.1,100.4 L361.6,100.1 L363.1,99.7 L364.6,99.3 L366.1,98.9 L367.6,98.6 L369.1,98.2 L370.6,97.8 L372.1,97.4 L373.6,97.1 L375.1,96.7 L376.6,96.3 L378.1,95.9 L379.0,95.7" fill="none" stroke="#ff0000" stroke-width="1.5"/>
<path d="M98.1,227.0 L99.6,223.6 L101.1,220.2 L102.6,216.8 L104.1,213.5 L105.6,210.2 L107.1,207.0 L108.6,203.8 L110.1,200.6 L111.6,197.5 L113.1,194.4 L114.6,191.4 L116.1,188.4 L117.6,185.4 L119.1,182.5 L120.6,179.7 L122.1,176.9 L123.6,174.2 L125.1,171.5 L126.6,168.9 L128.1,166.5 L129.6,164.2 L131.1,161.9 L132.6,159.8 L134.1,157.7 L135.6,155.6 L137.1,153.4 L138.6,151.4 L140.1,149.4 L141.6,147.5 L143.1,145.7 L144.6,144.1 L146.1,142.5 L147.6,141.0 L149.1,139.7 L150.6,138.4 L152.1,137.2 L153.6,136.0 L155.1,134.9 L156.6,134.0 L158.1,133.1 L159.6,132.4 L161.1,131.8 L162.6,131.2 L164.1,130.7 L165.6,130.2 L167.1,129.8 L168.6,129.5 L170.1,129.2 L171.6,128.9 L173.1,128.7 L174.6,128.5 L176.1,128.3 L177.6,128.1 L179.1,127.9 L180.6,127.7 L182.1,127.6 L183.6,127.5 L185.1,127.3 L186.6,127.2 L188.1,127.1 L189.6,127.0 L191.1,126.9 L192.6,126.9 L194.1,126.8 L195.6,126.8 L197.1,126.7 L198.6,126.7 L200.1,126.6 L201.6,126.5 L203.1,126.5 L204.6,126.4 L206.1,126.4 L207.6,126.3 L209.1,126.3 L210.6,126.2 L212.1,126.1 L213.6,126.1 L215.1,126.0 L216.6,125.9 L218.1,125.8 L219.6,125.7 L221.1,125.6 L222.6,125.5 L224.1,125.4 L225.6,125.3 L227.1,125.2 L228.6,125.1 L230.1,125.0 L231.6,124.9 L233.1,124.8 L234.6,124.6 L236.1,124.5 L237.6,124.4 L239.1,124.2 L240.6,124.1 L242.1,124.0 L243.6,123.8 L245.1,123.7 L246.6,123.5 L248.1,123.3 L249.6,123.1 L251.1,123.0 L252.6,122.8 L254.1,122.6 L255.6,122.3 L257.1,122.1 L258.6,121.8 L260.1,121.6 L261.6,121.3 L263.1,121.0 L264.6,120.7 L266.1,120.4 L267.6,120.0 L269.1,119.7 L270.6,119.4 L272.1,119.0 L273.6,118.7 L275.1,118.3 L276.6,118.0 L278.1,117.6 L279.6,117.3 L281.1,116.9 L282.6,116.6 L284.1,116.2 L285.6,115.9 L287.1,115.5 L288.6,115.1 L290.1,114.8 L291.6,114.4 L293.1,114.1 L294.6,113.7 L296.1,113.4 L297.6,113.1 L299.1,112.7 L300.6,112.4 L302.1,112.0 L303.6,111.6 L305.1,111.3 L306.6,110.9 L308.1,110.6 L309.6,110.2 L311.1,109.8 L312.6,109.5 L314.1,109.1 L315.6,108.7 L317.1,108.3 L318.6,108.0 L320.1,107.7 L321.6,107.4 L323.1,107.1 L324.6,106.9 L326.1,106.7 L327.6,106.5 L329.1,106.3 L330.6,106.3 L332.1,106.3 L333.6,106.4 L335.1,106.4 L336.6,106.5 L338.1,106.7 L339.6,106.9 L341.1,107.3 L342.6,107.8 L344.1,108.3 L345.6,109.0 L347.1,109.9 L348.6,111.0 L350.1,112.3 L351.6,114.0 L353.1,116.0 L354.6,117.8 L356.1,119.7 L357.6,121.5 L359.1,123.4 L360.6,125.2 L362.1,127.2 L363.6,129.8 L365.1,133.7 L366.6,137.4 L368.1,140.5 L369.6,143.2 L371.1,145.3 L372.6,147.0 L374.1,148.4 L375.6,149.5 L377.1,150.3 L378.6,150.9 L379.5,151.2" fill="none" stroke="#008c00" stroke-width="1.5"/>
<path d="M98.1,227.0 L99.6,223.6 L101.1,220.2 L102.6,216.8 L104.1,213.5 L105.6,210.2 L107.1,207.0 L108.6,203.8 L110.1,200.6 L111.6,197.5 L113.1,194.4 L114.6,191.4 L116.1,188.4 L117.6,185.4 L119.1,182.5 L120.6,179.7 L122.1,176.9 L123.6,174.2 L125.1,171.5 L126.6,168.9 L128.1,166.5 L129.6,164.2 L131.1,161.9 L132.6,159.8 L134.1,157.7 L135.6,155.6 L137.1,153.4 L138.6,151.4 L140.1,149.4 L141.6,147.5 L143.1,145.7 L144.6,144.1 L146.1,142.5 L147.6,141.0 L149.1,139.7 L150.6,138.4 L152.1,137.2 L153.6,136.0 L155.1,134.9 L156.6,134.0 L158.1,133.1 L159.6,132.4 L161.1,131.8 L162.6,131.2 L164.1,130.7 L165.6,130.2 L167.1,129.8 L168.6,129.5 L170.1,129.2 L171.6,128.9 L173.1,128.7 L174.6,128.5 L176.1,128.3 L177.6,128.1 L179.1,127.9 L180.6,127.7 L182.1,127.6 L183.6,127.5 L185.1,127.3 L186.6,127.2 L188.1,127.1 L189.6,127.0 L191.1,126.9 L192.6,126.9 L194.1,126.8 L195.6,126.8 L197.1,126.7 L198.6,126.7 L200.1,126.6 L201.6,126.5 L203.1,126.5 L204.6,126.4 L206.1,126.4 L207.6,126.3 L209.1,126.3 L210.6,126.2 L212.1,126.1 L213.6,126.1 L215.1,126.0 L216.6,125.9 L218.1,125.8 L219.6,125.7 L221.1,125.6 L222.6,125.5 L224.1,125.4 L225.6,125.3 L227.1,125.2 L228.6,125.1 L230.1,125.0 L231.6,124.9 L233.1,124.8 L234.6,124.6 L236.1,124.5 L237.6,124.4 L239.1,124.2 L240.6,124.1 L242.1,124.0 L243.6,123.8 L245.1,123.7 L246.6,123.5 L248.1,123.3 L249.6,123.1 L251.1,123.0 L252.6,122.8 L254.1,122.5 L255.6,122.3 L257.1,122.1 L258.6,121.8 L260.1,121.6 L261.6,121.3 L263.1,121.1 L264.6,120.8 L266.1,120.5 L267.6,120.3 L269.1,120.0 L270.6,119.7 L272.1,119.4 L273.6,119.1 L275.1,118.8 L276.6,118.5 L278.1,118.2 L279.6,117.9 L281.1,117.6 L282.6,117.2 L284.1,116.9 L285.6,116.6 L287.1,116.2 L288.6,115.9 L290.1,115.6 L291.6,115.2 L293.1,114.9 L294.6,114.6 L296.1,114.3 L297.6,113.9 L299.1,113.6 L300.6,113.3 L302.1,112.9 L303.6,112.6 L305.1,112.2 L306.6,111.9 L308.1,111.5 L309.6,111.2 L311.1,110.8 L312.6,110.5 L314.1,110.1 L315.6,109.7 L317.1,109.4 L318.6,109.1 L320.1,108.8 L321.6,108.5 L323.1,108.3 L324.6,108.1 L326.1,107.8 L327.6,107.6 L329.1,107.4 L330.6,107.3 L332.1,107.1 L333.6,107.0 L335.1,106.9 L336.6,106.8 L338.1,106.7 L339.6,106.6 L341.1,106.6 L342.6,106.5 L344.1,106.5 L345.6,106.5 L347.1,106.5 L348.6,106.6 L350.1,106.6 L351.6,106.7 L353.1,106.8 L354.6,106.9 L356.1,107.1 L357.6,107.3 L359.1,107.5 L360.6,107.7 L362.1,107.9 L363.6,108.2 L365.1,108.5 L366.6,108.8 L368.1,109.1 L369.6,109.4 L371.1,109.7 L372.6,110.1 L374.1,110.5 L375.6,110.9 L377.1,111.3 L378.6,111.7 L379.5,112.0" fill="none" stroke="#0000ff" stroke-width="1.5"/>
</g>
<path d="M70.70,226.7 v-3.5 M70.70,33.4 v3.5 M84.27,226.7 v-3.5 M84.27,33.4 v3.5 M93.90,226.7 v-3.5 M93.90,33.4 v3.5 M101.37,226.7 v-3.5 M101.37,33.4 v3.5 M107.48,226.7 v-3.5 M107.48,33.4 v3.5 M112.64,226.7 v-3.5 M112.64,33.4 v3.5 M117.11,226.7 v-3.5 M117.11,33.4 v3.5 M121.05,226.7 v-3.5 M121.05,33.4 v3.5 M124.57,226.7 v-7.0 M124.57,33.4 v7.0 M147.78,226.7 v-3.5 M147.78,33.4 v3.5 M161.35,226.7 v-3.5 M161.35,33.4 v3.5 M170.98,226.7 v-3.5 M170.98,33.4 v3.5 M178.45,226.7 v-3.5 M178.45,33.4 v3.5 M184.55,226.7 v-3.5 M184.55,33.4 v3.5 M189.71,226.7 v-3.5 M189.71,33.4 v3.5 M194.18,226.7 v-3.5 M194.18,33.4 v3.5 M198.12,226.7 v-3.5 M198.12,33.4 v3.5 M201.65,226.7 v-7.0 M201.65,33.4 v7.0 M224.85,226.7 v-3.5 M224.85,33.4 v3.5 M238.42,226.7 v-3.5 M238.42,33.4 v3.5 M248.05,226.7 v-3.5 M248.05,33.4 v3.5 M255.52,226.7 v-3.5 M255.52,33.4 v3.5 M261.62,226.7 v-3.5 M261.62,33.4 v3.5 M266.78,226.7 v-3.5 M266.78,33.4 v3.5 M271.25,226.7 v-3.5 M271.25,33.4 v3.5 M275.20,226.7 v-3.5 M275.20,33.4 v3.5 M278.72,226.7 v-7.0 M278.72,33.4 v7.0 M301.93,226.7 v-3.5 M301.93,33.4 v3.5 M315.50,226.7 v-3.5 M315.50,33.4 v3.5 M325.13,226.7 v-3.5 M325.13,33.4 v3.5 M332.60,226.7 v-3.5 M332.60,33.4 v3.5 M338.70,226.7 v-3.5 M338.70,33.4 v3.5 M343.86,226.7 v-3.5 M343.86,33.4 v3.5 M348.33,226.7 v-3.5 M348.33,33.4 v3.5 M352.27,226.7 v-3.5 M352.27,33.4 v3.5 M355.80,226.7 v-7.0 M355.80,33.4 v7.0 M47.5,212.15 h3.5 M379.0,212.15 h-3.5 M47.5,203.64 h3.5 M379.0,203.64 h-3.5 M47.5,197.61 h3.5 M379.0,197.61 h-3.5 M47.5,192.92 h3.5 M379.0,192.92 h-3.5 M47.5,189.10 h3.5 M379.0,189.10 h-3.5 M47.5,185.86 h3.5 M379.0,185.86 h-3.5 M47.5,183.06 h3.5 M379.0,183.06 h-3.5 M47.5,180.59 h3.5 M379.0,180.59 h-3.5 M47.5,178.38 h7.0 M379.0,178.38 h-7.0 M47.5,163.83 h3.5 M379.0,163.83 h-3.5 M47.5,155.32 h3.5 M379.0,155.32 h-3.5 M47.5,149.28 h3.5 M379.0,149.28 h-3.5 M47.5,144.60 h3.5 M379.0,144.60 h-3.5 M47.5,140.77 h3.5 M379.0,140.77 h-3.5 M47.5,137.54 h3.5 M379.0,137.54 h-3.5 M47.5,134.73 h3.5 M379.0,134.73 h-3.5 M47.5,132.26 h3.5 M379.0,132.26 h-3.5 M47.5,130.05 h7.0 M379.0,130.05 h-7.0 M47.5,115.50 h3.5 M379.0,115.50 h-3.5 M47.5,106.99 h3.5 M379.0,106.99 h-3.5 M47.5,100.96 h3.5 M379.0,100.96 h-3.5 M47.5,96.27 h3.5 M379.0,96.27 h-3.5 M47.5,92.45 h3.5 M379.0,92.45 h-3.5 M47.5,89.21 h3.5 M379.0,89.21 h-3.5 M47.5,86.41 h3.5 M379.0,86.41 h-3.5 M47.5,83.94 h3.5 M379.0,83.94 h-3.5 M47.5,81.72 h7.0 M379.0,81.72 h-7.0 M47.5,67.18 h3.5 M379.0,67.18 h-3.5 M47.5,58.67 h3.5 M379.0,58.67 h-3.5 M47.5,52.63 h3.5 M379.0,52.63 h-3.5 M47.5,47.95 h3.5 M379.0,47.95 h-3.5 M47.5,44.12 h3.5 M379.0,44.12 h-3.5 M47.5,40.89 h3.5 M379.0,40.89 h-3.5 M47.5,38.08 h3.5 M379.0,38.08 h-3.5 M47.5,35.61 h3.5 M379.0,35.61 h-3.5" stroke="#000" stroke-width="1" fill="none"/>
<rect x="47.5" y="33.4" width="331.5" height="193.54999999999998" fill="none" stroke="#000" stroke-width="1"/>
<path d="M60.4,51.6 H91.6 M60.4,49.7 v3.8 M91.6,49.7 v3.8" stroke="#920092" stroke-width="1" fill="none"/>
<rect x="73.4" y="49" width="5.2" height="5.2" fill="#920092"/>
<path d="M60.9,64.8 H90.9" stroke="#333" stroke-width="1.6"/>
<path d="M60.9,78.1 H90.9" stroke="#111" stroke-width="1.45" stroke-dasharray="9.1 4.3"/>
<path d="M335.4,51.6 H366.1" stroke="#111" stroke-width="1.5" stroke-dasharray="13.4 3.9 3 4.2"/>
<path d="M335.6,65.2 H366" stroke="#777" stroke-width="0.9" stroke-dasharray="0.9 2.4"/>
<text x="47.8" y="246" text-anchor="middle" font-size="11">10<tspan font-size="7" dy="-7.6">-</tspan><tspan font-size="9.2" dy="1.6" dx="-0.45">1</tspan></text>
<text x="40.2" y="231.7" text-anchor="end" font-size="11">10<tspan font-size="7" dy="-7.6">-</tspan><tspan font-size="9.2" dy="1.6" dx="-0.45">1</tspan></text>
<text x="125.4" y="246" text-anchor="middle" font-size="11">10<tspan font-size="9.2" dy="-6">0</tspan></text>
<text x="41.6" y="183.4" text-anchor="end" font-size="11">10<tspan font-size="9.2" dy="-6">0</tspan></text>
<text x="202.4" y="246" text-anchor="middle" font-size="11">10<tspan font-size="9.2" dy="-6">1</tspan></text>
<text x="41.6" y="135.1" text-anchor="end" font-size="11">10<tspan font-size="9.2" dy="-6">1</tspan></text>
<text x="279.5" y="246" text-anchor="middle" font-size="11">10<tspan font-size="9.2" dy="-6">2</tspan></text>
<text x="41.6" y="86.7" text-anchor="end" font-size="11">10<tspan font-size="9.2" dy="-6">2</tspan></text>
<text x="356.6" y="246" text-anchor="middle" font-size="11">10<tspan font-size="9.2" dy="-6">3</tspan></text>
<text x="41.6" y="38.4" text-anchor="end" font-size="11">10<tspan font-size="9.2" dy="-6">3</tspan></text>
<text x="213.3" y="262.8" text-anchor="middle" font-size="11">E<tspan font-size="9.2" dy="2.4">k</tspan><tspan dy="-2.4">(GeV)</tspan></text>
<text x="207.9" y="22.2" font-size="11">e<tspan font-size="8" dy="-5.3">+</tspan></text>
<text transform="translate(14,193.1) rotate(-90)" font-size="10.95">E<tspan font-size="9.2" dy="-5.9">3</tspan><tspan dy="5.9">dN/dE(GeV</tspan><tspan font-size="9.2" dy="-5.9">2</tspan><tspan dy="5.9">m</tspan><tspan font-size="9.2" dy="-5.9">-2</tspan><tspan dy="5.9">s</tspan><tspan font-size="9.2" dy="-5.9">-1</tspan><tspan dy="5.9">sr</tspan><tspan font-size="9.2" dy="-5.9">-1</tspan><tspan dy="5.9">)</tspan></text>
<text x="97.8" y="55.7" font-size="11">AMS02</text>
<text x="97.8" y="69.2" font-size="11">total</text>
<text x="97.8" y="82.4" font-size="11">secondary</text>
<text x="329" y="55.6" text-anchor="end" font-size="11">extra</text>
<text x="329" y="69" text-anchor="end" font-size="11">LIS</text>
<text x="201.6" y="55.2" font-size="15.3" style="fill:#ff0000;stroke:#ff0000;stroke-width:0.3px">PSR</text>
<text transform="translate(201.6,69.3) scale(1.14,1)" font-size="15.3" font-family="Liberation Serif, serif" style="fill:#008c00;stroke:#008c00;stroke-width:0.2px">μ</text>
<text transform="translate(201.7,84.2) scale(1.18,1)" font-size="15.3" font-family="Liberation Serif, serif" style="fill:#0000ff;stroke:#0000ff;stroke-width:0.3px">τ</text>
</svg>
</body></html>
